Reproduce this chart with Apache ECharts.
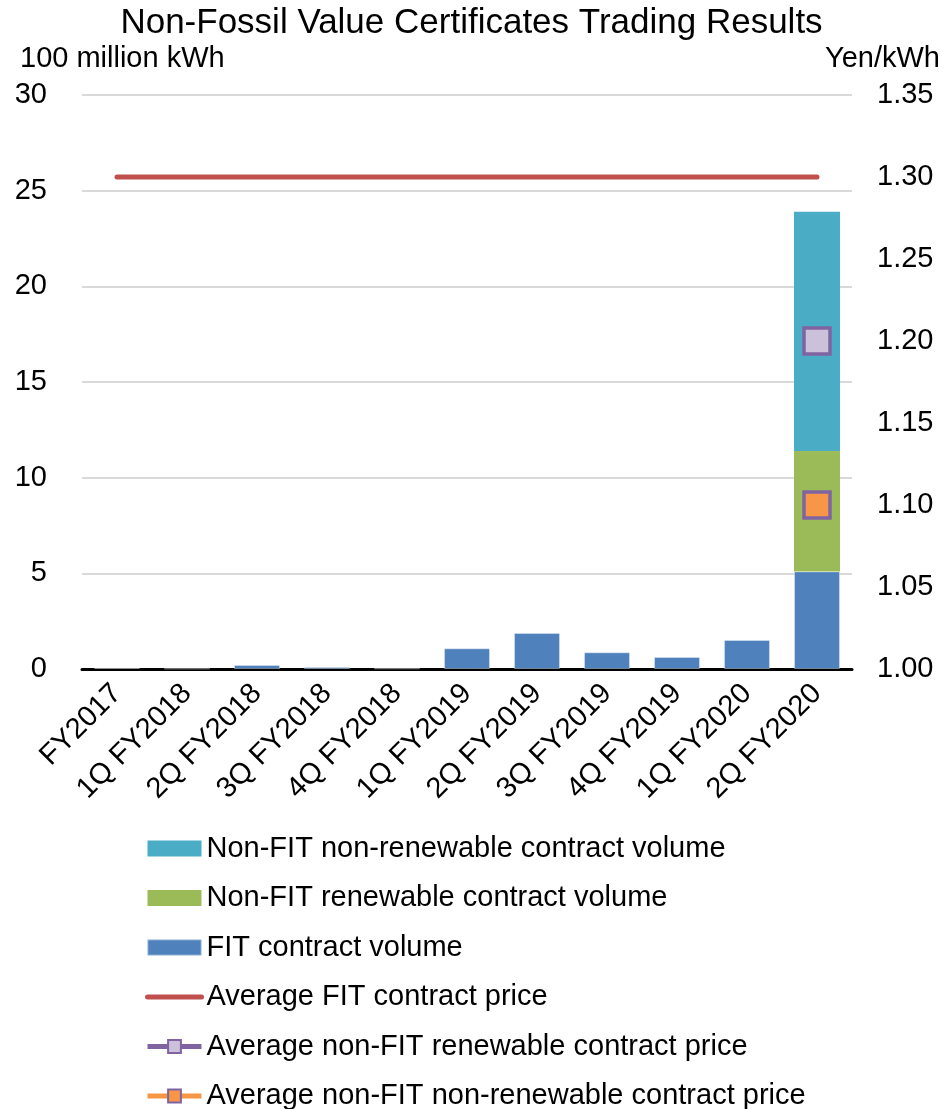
<!DOCTYPE html>
<html>
<head>
<meta charset="utf-8">
<title>Non-Fossil Value Certificates Trading Results</title>
<script src="https://cdn.jsdelivr.net/npm/echarts@6/dist/echarts.min.js"></script>
<style>
  html, body { margin: 0; padding: 0; background: #ffffff; }
  #chart { width: 943px; height: 1109px; }
</style>
</head>
<body>
<div id="chart"></div>
<script>
// Auction rounds
const categories = ['FY2017', '1Q FY2018', '2Q FY2018', '3Q FY2018', '4Q FY2018',
  '1Q FY2019', '2Q FY2019', '3Q FY2019', '4Q FY2019', '1Q FY2020', '2Q FY2020'];

// Contract volumes (100 million kWh)
const fitVolume = [0.05, 0.02, 0.21, 0.1, 0.03, 1.08, 1.88, 0.87, 0.63, 1.52, 5.1];
const nonFitRenewableVolume = [null, null, null, null, null, null, null, null, null, null, 6.3];
const nonFitNonRenewableVolume = [null, null, null, null, null, null, null, null, null, null, 12.5];

// Average contract prices (Yen/kWh)
const fitPrice = [1.30, 1.30, 1.30, 1.30, 1.30, 1.30, 1.30, 1.30, 1.30, 1.30, 1.30];
const nonFitRenewablePrice = [null, null, null, null, null, null, null, null, null, null, 1.20];
const nonFitNonRenewablePrice = [null, null, null, null, null, null, null, null, null, null, 1.10];

// Axis ranges
const volumeAxis = { min: 0, max: 30, interval: 5 };
const priceAxis = { min: 1.0, max: 1.35, interval: 0.05 };

const FONT = '"Liberation Sans", Arial, sans-serif';
const TXT = 29;

const chart = echarts.init(document.getElementById('chart'), null, { renderer: 'canvas' });

const hiddenMarker = { color: 'rgba(0,0,0,0)', borderColor: 'rgba(0,0,0,0)', borderWidth: 0 };

const option = {
  backgroundColor: '#ffffff',
  animation: false,
  textStyle: { fontFamily: FONT, color: '#000000' },
  title: {
    text: 'Non-Fossil Value Certificates Trading Results',
    left: 'center',
    top: 1,
    textStyle: { fontFamily: FONT, fontSize: 35, fontWeight: 'normal', color: '#000000' }
  },
  graphic: [
    {
      type: 'text', left: 20, top: 44,
      style: { text: '100 million kWh', fontFamily: FONT, fontSize: TXT, fill: '#000000' }
    },
    {
      type: 'text', right: 3, top: 44,
      style: { text: 'Yen/kWh', fontFamily: FONT, fontSize: TXT, fill: '#000000' }
    }
  ],
  grid: { left: 82, right: 91, top: 95, bottom: 440, containLabel: false },
  legend: {
    orient: 'vertical',
    left: 145,
    top: 834,
    height: 400,
    padding: 0,
    itemWidth: 54,
    itemHeight: 16,
    itemGap: 20.5,
    lineStyle: { width: 'inherit' },
    textStyle: { fontFamily: FONT, fontSize: TXT, color: '#000000' },
    data: [
      { name: 'Non-FIT non-renewable contract volume', icon: 'rect' },
      { name: 'Non-FIT renewable contract volume', icon: 'rect' },
      { name: 'FIT contract volume', icon: 'rect' },
      { name: 'Average FIT contract price', itemStyle: hiddenMarker },
      { name: 'Average non-FIT renewable contract price' },
      { name: 'Average non-FIT non-renewable contract price' }
    ]
  },
  xAxis: {
    type: 'category',
    data: categories,
    axisLine: { show: true, lineStyle: { color: '#000000', width: 3 } },
    axisTick: { show: false },
    axisLabel: {
      rotate: 45,
      margin: 20,
      interval: 0,
      fontFamily: FONT,
      fontSize: TXT,
      color: '#000000'
    }
  },
  yAxis: [
    {
      type: 'value',
      min: volumeAxis.min,
      max: volumeAxis.max,
      interval: volumeAxis.interval,
      axisLine: { show: false },
      axisTick: { show: false },
      axisLabel: { margin: 35, fontFamily: FONT, fontSize: TXT, color: '#000000' },
      splitLine: { show: true, lineStyle: { color: '#d9d9d9', width: 2 } }
    },
    {
      type: 'value',
      position: 'right',
      min: priceAxis.min,
      max: priceAxis.max,
      interval: priceAxis.interval,
      axisLine: { show: false },
      axisTick: { show: false },
      splitLine: { show: false },
      axisLabel: {
        margin: 25,
        fontFamily: FONT,
        fontSize: TXT,
        color: '#000000',
        formatter: (v) => v.toFixed(2)
      }
    }
  ],
  series: [
    {
      name: 'FIT contract volume',
      type: 'bar',
      stack: 'volume',
      yAxisIndex: 0,
      barWidth: 46,
      data: fitVolume,
      itemStyle: { color: '#4F81BD', borderColor: 'rgba(255,255,255,0.35)', borderWidth: 1 }
    },
    {
      name: 'Non-FIT renewable contract volume',
      type: 'bar',
      stack: 'volume',
      yAxisIndex: 0,
      barWidth: 46,
      data: nonFitRenewableVolume,
      itemStyle: { color: '#9BBB59' }
    },
    {
      name: 'Non-FIT non-renewable contract volume',
      type: 'bar',
      stack: 'volume',
      yAxisIndex: 0,
      barWidth: 46,
      data: nonFitNonRenewableVolume,
      itemStyle: { color: '#4BACC6' }
    },
    {
      name: 'Average FIT contract price',
      type: 'line',
      yAxisIndex: 1,
      data: fitPrice,
      symbol: 'none',
      lineStyle: { color: '#C0504D', width: 5, cap: 'round' },
      itemStyle: { color: '#C0504D' },
      z: 5
    },
    {
      name: 'Average non-FIT renewable contract price',
      type: 'line',
      yAxisIndex: 1,
      data: nonFitRenewablePrice,
      symbol: 'rect',
      symbolSize: 26,
      lineStyle: { color: '#8064A2', width: 5 },
      itemStyle: { color: '#CCC1DA', borderColor: '#8064A2', borderWidth: 3.5 },
      z: 6
    },
    {
      name: 'Average non-FIT non-renewable contract price',
      type: 'line',
      yAxisIndex: 1,
      data: nonFitNonRenewablePrice,
      symbol: 'rect',
      symbolSize: 26,
      lineStyle: { color: '#F79646', width: 5 },
      itemStyle: { color: '#F79646', borderColor: '#8064A2', borderWidth: 3.5 },
      z: 6
    }
  ]
};

chart.setOption(option);
</script>
</body>
</html>
